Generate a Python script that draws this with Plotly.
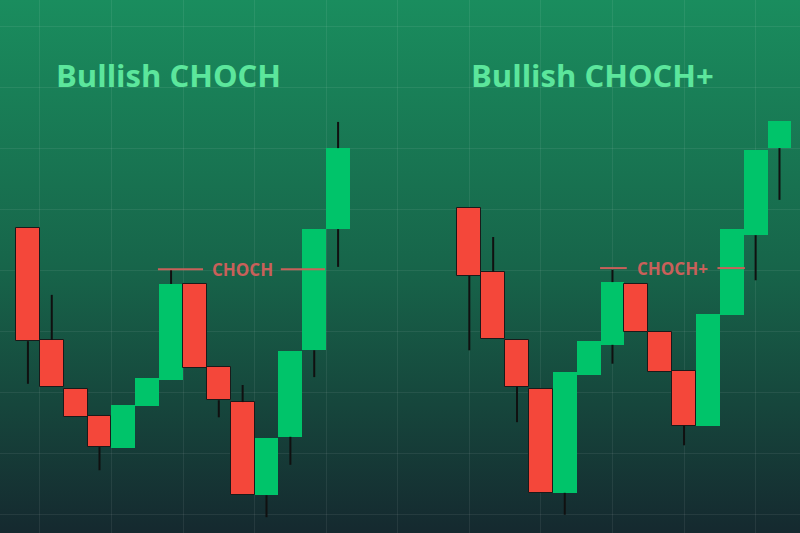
import base64
import plotly.graph_objects as go

# ---------------- data ----------------
# Left pattern: Bullish CHOCH (x positions 0..13)
left_x = list(range(14))
left_open = [50.1, 31.7, 23.6, 19.2, 14.0, 20.9, 25.1, 40.9, 27.3, 21.5, 6.2, 15.8, 30.0, 49.9]
left_close = [31.5, 24.0, 19.0, 14.1, 21.0, 25.5, 40.9, 27.1, 21.8, 6.2, 15.6, 29.9, 49.9, 63.2]
left_high = [50.1, 39.1, 23.6, 19.2, 21.0, 25.5, 43.2, 40.9, 27.3, 24.3, 15.6, 29.9, 49.9, 67.5]
left_low = [24.5, 24.0, 19.0, 10.3, 14.0, 20.9, 25.1, 27.1, 19.0, 6.2, 2.6, 11.2, 25.6, 43.7]

# Right pattern: Bullish CHOCH+ (x positions 18.5..31.5)
right_x = [18.5 + i for i in range(14)]
right_open = [53.4, 42.9, 31.7, 23.6, 6.6, 25.9, 30.9, 40.9, 33.0, 26.6, 17.6, 35.8, 48.9, 63.2]
right_close = [42.2, 31.9, 24.0, 6.6, 26.4, 31.5, 41.2, 33.0, 26.4, 17.6, 36.0, 49.9, 62.9, 67.7]
right_high = [53.4, 48.6, 31.7, 23.6, 26.4, 31.5, 43.2, 40.9, 33.0, 26.6, 36.0, 49.9, 62.9, 67.7]
right_low = [30.0, 31.9, 18.2, 6.6, 3.0, 25.9, 27.8, 33.0, 26.4, 14.4, 17.6, 35.8, 41.5, 54.7]

titles = ["Bullish CHOCH", "Bullish CHOCH+"]
choch_labels = ["CHOCH", "CHOCH+"]
choch_levels = [43.3, 43.5]
choch_text_x = [9.0, 27.0]
choch_left_seg = [(5.45, 7.34), (23.98, 25.1)]
choch_right_seg = [(10.6, 12.45), (28.9, 30.05)]

# ---------------- styles ----------------
GREEN = "#00c46a"
RED = "#f4473a"
WICK = "#101010"
LABEL = "#c9605a"
TITLE = "#5ce69c"

xs = left_x + right_x
o = left_open + right_open
c = left_close + right_close
h = left_high + right_high
l = left_low + right_low

fig = go.Figure()

# wicks (segments outside the bodies)
wx, wy = [], []
for xi, oi, ci, hi, li in zip(xs, o, c, h, l):
    top, bot = max(oi, ci), min(oi, ci)
    if hi > top:
        wx += [xi, xi, None]
        wy += [top, hi, None]
    if li < bot:
        wx += [xi, xi, None]
        wy += [li, bot, None]
fig.add_trace(go.Scatter(x=wx, y=wy, mode="lines",
                         line=dict(color=WICK, width=2), hoverinfo="skip"))

# bodies
for rising, color, lw in [(True, GREEN, 0), (False, RED, 1)]:
    bx, bb, bh = [], [], []
    for xi, oi, ci in zip(xs, o, c):
        if (ci >= oi) == rising:
            bx.append(xi)
            bb.append(min(oi, ci))
            bh.append(abs(ci - oi))
    fig.add_trace(go.Bar(x=bx, y=bh, base=bb, width=1.0,
                         marker=dict(color=color, line=dict(color="#1a1a1a", width=lw))))

# CHOCH level lines
for lvl, (a0, a1), (b0, b1) in zip(choch_levels, choch_left_seg, choch_right_seg):
    fig.add_trace(go.Scatter(x=[a0, a1, None, b0, b1], y=[lvl, lvl, None, lvl, lvl],
                             mode="lines", line=dict(color=LABEL, width=2),
                             hoverinfo="skip"))

for lbl, lvl, tx in zip(choch_labels, choch_levels, choch_text_x):
    fig.add_annotation(x=tx, y=lvl, text=lbl, showarrow=False, xanchor="center",
                       yanchor="middle",
                       font=dict(family="Open Sans", size=17, color=LABEL, weight=700))

for t, px in zip(titles, [0.211, 0.74]):
    fig.add_annotation(x=px, y=0.859, xref="paper", yref="paper", text=t,
                       showarrow=False, xanchor="center", yanchor="middle",
                       font=dict(family="Open Sans", size=31, color=TITLE, weight=700))

svg = ('<svg xmlns="http://www.w3.org/2000/svg" width="800" height="533" '
       'preserveAspectRatio="none"><defs><linearGradient id="g" x1="0" y1="0" x2="0" y2="1">'
       '<stop offset="0" stop-color="#1a8d5e"/><stop offset="0.5" stop-color="#17654a"/>'
       '<stop offset="1" stop-color="#15292f"/></linearGradient></defs>'
       '<rect width="800" height="533" fill="url(#g)"/></svg>')
src = "data:image/svg+xml;base64," + base64.b64encode(svg.encode()).decode()

fig.update_layout(
    width=800, height=533,
    margin=dict(l=0, r=0, t=0, b=0),
    paper_bgcolor="#17654a", plot_bgcolor="rgba(0,0,0,0)",
    showlegend=False, barmode="overlay", bargap=0,
    images=[dict(source=src, xref="paper", yref="paper", x=0, y=1, sizex=1, sizey=1,
                 xanchor="left", yanchor="top", sizing="stretch", layer="below")],
    xaxis=dict(range=[-1.17, 32.36], showticklabels=False, zeroline=False,
               showgrid=True, tick0=0.5, dtick=3, gridcolor="rgba(255,255,255,0.07)",
               gridwidth=1, fixedrange=True),
    yaxis=dict(range=[0, 87.52], showticklabels=False, zeroline=False,
               showgrid=True, tick0=3.12, dtick=10, gridcolor="rgba(255,255,255,0.07)",
               gridwidth=1, fixedrange=True),
)

fig.write_html("out.html", config={"displayModeBar": False},
               post_script="document.body.style.margin='0';document.body.style.overflow='hidden';")
